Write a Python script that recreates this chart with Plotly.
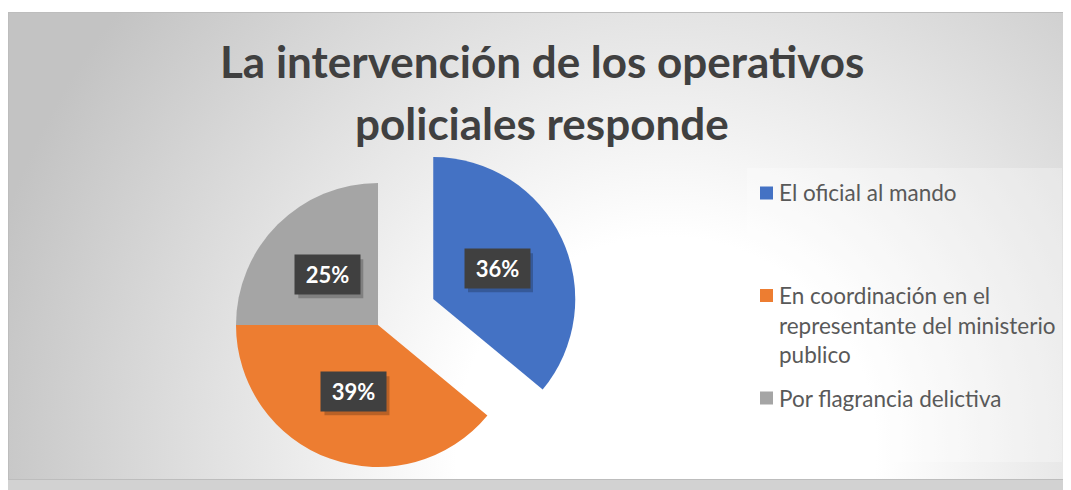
import base64
import math
import textwrap
import plotly.graph_objects as go

# ---------------- data ----------------
labels = ["El oficial al mando",
          "En coordinación en el representante del ministerio publico",
          "Por flagrancia delictiva"]
values = [36, 39, 25]
colors = ["#4472C4", "#ED7D31", "#A5A5A5"]
pulled = [True, False, False]
title_lines = ["La intervención de los operativos", "policiales responde"]

# ---------------- layout constants (page pixels) ----------------
PAGE_W, PAGE_H = 1071, 490
OFF = 8                              # browser body margin
W, H = PAGE_W - OFF, PAGE_H - OFF    # figure size
CX, CY, R = 378, 325, 142            # pie centre / radius
PULL = 0.43                          # explode fraction of radius
LABEL_POS = 0.5                      # data labels at half radius
CHART_BOX = (8, 12, 1069, 480)       # chart area rectangle


def px(x):
    return (x - OFF) / W


def py(y):
    return 1 - (y - OFF) / H


total = sum(values)
TRANSP = "rgba(0,0,0,0)"

fig = go.Figure()

# mid angles (degrees clockwise from 12 o'clock)
mids = []
acc = 0
for v in values:
    mids.append((acc + v / 2) / total * 360)
    acc += v

# centre of the pulled slice
ox, oy = CX, CY
for i, p in enumerate(pulled):
    if p:
        a = math.radians(mids[i])
        ox = CX + PULL * R * math.sin(a)
        oy = CY - PULL * R * math.cos(a)

centres = [(ox, oy) if p else (CX, CY) for p in pulled]


def domain(cx, cy):
    return dict(x=[px(cx - R), px(cx + R)], y=[py(cy + R), py(cy - R)])


# non-pulled slices
fig.add_trace(go.Pie(
    labels=labels, values=values, sort=False, direction="clockwise", rotation=0,
    marker=dict(colors=[TRANSP if p else c for p, c in zip(pulled, colors)],
                line=dict(width=0)),
    textinfo="none", showlegend=False, hoverinfo="label+percent",
    domain=domain(CX, CY),
))
# pulled slice
fig.add_trace(go.Pie(
    labels=labels, values=values, sort=False, direction="clockwise", rotation=0,
    marker=dict(colors=[c if p else TRANSP for p, c in zip(pulled, colors)],
                line=dict(width=0)),
    textinfo="none", showlegend=False, hoverinfo="label+percent",
    domain=domain(ox, oy),
))

annotations = []
shapes = []

# data labels (dark boxes with soft shadow)
BOX_W, BOX_H = 65, 39
for i, v in enumerate(values):
    cx, cy = centres[i]
    a = math.radians(mids[i])
    lx = cx + LABEL_POS * R * math.sin(a)
    ly = cy - LABEL_POS * R * math.cos(a)
    txt = f"{round(v / total * 100)}%"
    shapes.append(dict(type="rect", xref="paper", yref="paper",
                       x0=px(lx - BOX_W / 2 + 3), x1=px(lx + BOX_W / 2 + 3),
                       y0=py(ly + BOX_H / 2 + 4), y1=py(ly - BOX_H / 2 + 4),
                       fillcolor="rgba(0,0,0,0.22)", line=dict(width=0)))
    annotations.append(dict(text=txt, x=px(lx), y=py(ly), xref="paper", yref="paper",
                            showarrow=False, width=BOX_W - 16, height=BOX_H - 16,
                            borderpad=8, xanchor="center", yanchor="middle",
                            bgcolor="#404040",
                            font=dict(family="Lato", size=22, weight="bold",
                                      color="white")))

# title
TITLE_X, TITLE_Y0, TITLE_STEP = 542, 61, 62
for j, line in enumerate(title_lines):
    annotations.append(dict(text=line, x=px(TITLE_X), y=py(TITLE_Y0 + j * TITLE_STEP),
                            xref="paper", yref="paper", showarrow=False,
                            xanchor="center", yanchor="middle",
                            font=dict(family="Lato", size=44, weight="bold",
                                      color="#404040")))

# legend (manual, Excel-like spacing)
LEG_X, LEG_Y0, LEG_STEP, LINE_STEP, SQ = 760, 193, 102.5, 29.5, 13
for i, (lab, col) in enumerate(zip(labels, colors)):
    yc = LEG_Y0 + i * LEG_STEP
    shapes.append(dict(type="rect", xref="paper", yref="paper",
                       x0=px(LEG_X), x1=px(LEG_X + SQ),
                       y0=py(yc + SQ / 2), y1=py(yc - SQ / 2),
                       fillcolor=col, line=dict(width=0)))
    for k, line in enumerate(textwrap.wrap(lab, 28)):
        annotations.append(dict(text=line, x=px(LEG_X + SQ + 4),
                                y=py(yc + k * LINE_STEP),
                                xref="paper", yref="paper", showarrow=False,
                                xanchor="left", yanchor="middle",
                                font=dict(family="Lato", size=22.5, color="#595959")))

# legend panel (slightly lighter)
shapes.append(dict(type="rect", xref="paper", yref="paper", layer="below",
                   x0=px(747), x1=px(1062), y0=py(462), y1=py(168),
                   fillcolor="rgba(255,255,255,0.28)", line=dict(width=0)))
# bottom shadow strip
shapes.append(dict(type="rect", xref="paper", yref="paper", layer="below",
                   x0=px(8), x1=1, y0=0, y1=py(480),
                   fillcolor="#d2d2d2", line=dict(width=0)))

# radial gradient background
x0, y0, x1, y1 = CHART_BOX
bw, bh = x1 - x0, y1 - y0
svg = (f"<svg xmlns='http://www.w3.org/2000/svg' width='{bw}' height='{bh}' "
       f"viewBox='0 0 {bw} {bh}' preserveAspectRatio='none'>"
       "<defs><radialGradient id='g' gradientUnits='userSpaceOnUse' "
       f"cx='{bw*0.62:.0f}' cy='{bh*0.93:.0f}' r='700'>"
       "<stop offset='0' stop-color='#ffffff'/>"
       "<stop offset='0.3' stop-color='#ffffff'/>"
       "<stop offset='1' stop-color='#c3c3c3'/>"
       "</radialGradient></defs>"
       f"<rect x='0' y='0' width='{bw}' height='{bh}' fill='url(#g)'/>"
       f"<rect x='0.5' y='0.5' width='{bw-1}' height='{bh-1}' fill='none' "
       "stroke='#bdbdbd' stroke-width='1'/></svg>")
src = "data:image/svg+xml;base64," + base64.b64encode(svg.encode()).decode()

fig.update_layout(
    width=W, height=H,
    margin=dict(l=0, r=0, t=0, b=0),
    paper_bgcolor="white",
    plot_bgcolor="white",
    showlegend=False,
    annotations=annotations,
    shapes=shapes,
    images=[dict(source=src, xref="paper", yref="paper",
                 x=px(x0), y=py(y0), sizex=bw / W, sizey=bh / H,
                 sizing="stretch", layer="below", xanchor="left", yanchor="top")],
)

fig.write_html("out.html")
